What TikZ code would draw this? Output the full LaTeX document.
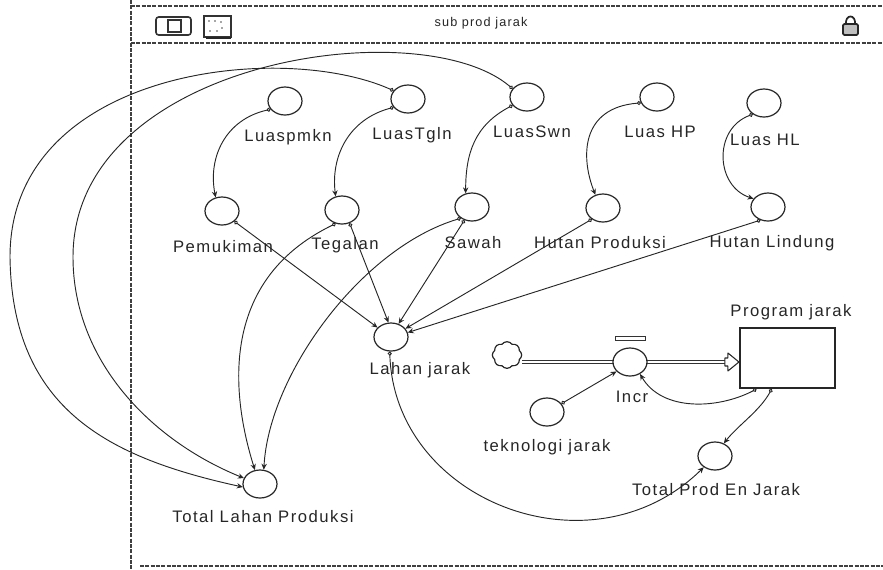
\documentclass[tikz,border=0pt]{standalone}
\usepackage{fontspec}
\setmainfont{Liberation Sans}
\newfontfamily\lblfont{Liberation Sans}[LetterSpace=9]
\usetikzlibrary{arrows.meta,shapes.geometric,shapes.symbols,calc}

\begin{document}
\begin{tikzpicture}[x=0.75pt,y=-0.75pt,
  aux/.style={ellipse,draw=black!85,line width=0.9pt,fill=white,
    minimum width=25.5pt,minimum height=21pt,inner sep=0pt},
  lbl/.style={font=\lblfont\fontsize{12.5}{14}\selectfont,text=black!85,inner sep=0pt},
  conn/.style={draw=black!85,line width=0.7pt,
    {Circle[open,length=3pt,width=3pt]}-{Stealth[length=4.5pt,width=4pt]}},
  winframe/.style={draw=black!75,line width=1.3pt,dash pattern=on 3pt off 1pt},
]
\useasboundingbox (0,0) rectangle (883,569);

% window frame and title bar
\draw[winframe] (131,0) -- (131,569);
\draw[winframe] (131,6) -- (883,6);
\draw[winframe] (131,43) -- (883,43);
\draw[winframe] (140,566) -- (883,566);
\node[lbl,font=\lblfont\fontsize{9.5}{11}\selectfont] (title) at (481,23) {sub prod jarak};
% title bar icons
\draw[black!80,line width=1.2pt,rounded corners=2pt] (156,17) rectangle (191,35);
\draw[black!80,line width=1pt] (168,20) rectangle (181,32);
\draw[black!80,line width=1.2pt] (204,16) rectangle (231,37);
\draw[black!85,line width=2pt] (206,38) -- (231,38);
\fill[black!70] (209,21) circle (0.8) (215,21) circle (0.8) (221,22) circle (0.8)
  (210,31) circle (0.8) (217,31) circle (0.8) (222,28) circle (0.8);
\draw[black!85,line width=1.3pt] (846,24) .. controls (845,14) and (856,14) .. (855,24);
\draw[black!85,line width=1.3pt,fill=black!25,rounded corners=1pt] (843,24) rectangle (858,35);

% converters
\node[aux] (lpm) at (285,101) {};
\node[aux] (ltg) at (408,99) {};
\node[aux] (lsw) at (527,97) {};
\node[aux] (lhp) at (657,97) {};
\node[aux] (lhl) at (764,103) {};
\node[aux] (pem) at (222,211) {};
\node[aux] (teg) at (342,210) {};
\node[aux] (saw) at (472,207) {};
\node[aux] (hp)  at (603,208) {};
\node[aux] (hl)  at (768,207) {};
\node[aux] (lj)  at (391,337) {};
\node[aux] (tek) at (547,412) {};
\node[aux] (tpe) at (715,456) {};
\node[aux] (tlp) at (260,484) {};

\node[lbl] (lpm-l) at (288,137) {Luaspmkn};
\node[lbl] (ltg-l) at (412,135) {LuasTgln};
\node[lbl] (lsw-l) at (532,132) {LuasSwn};
\node[lbl] (lhp-l) at (660,132) {Luas HP};
\node[lbl] (lhl-l) at (765,140) {Luas HL};
\node[lbl] (pem-l) at (223,247) {Pemukiman};
\node[lbl] (teg-l) at (345,245) {Tegalan};
\node[lbl] (saw-l) at (473,243) {Sawah};
\node[lbl] (hp-l)  at (600,243) {Hutan Produksi};
\node[lbl] (hl-l)  at (772,243) {Hutan Lindung};
\node[lbl] (lj-l)  at (420,370) {Lahan jarak};
\node[lbl] (tek-l) at (547,447) {teknologi jarak};
\node[lbl] (tpe-l) at (716,490) {Total Prod En Jarak};
\node[lbl] (tlp-l) at (263,517) {Total Lahan Produksi};

% stock, source cloud and flow
\node[draw=black!85,line width=1.6pt,minimum width=71.25pt,minimum height=45pt,inner sep=0pt]
  (pj) at (787.5,358) {};
\node[lbl] (pj-l) at (791,312) {Program jarak};
\node[cloud,cloud puffs=8,cloud puff arc=110,draw=black!85,line width=0.9pt,
  minimum width=22pt,minimum height=20pt,inner sep=0pt] (cl) at (507,355) {};
\coordinate (inc-pos) at (630,362);
\draw[black!80,line width=0.6pt,double=white,double distance=2pt]
  (cl.east |- inc-pos) -- ($(pj.west |- inc-pos)+(-9,0)$);
\draw[black!85,line width=0.8pt,fill=white,line join=round]
  (pj.west |- inc-pos) -- ++(-11,-9) -- ++(0,5) -- ++(-3,0) -- ++(0,8) -- ++(3,0) -- ++(0,5) -- cycle;
\node[aux] (inc) at (inc-pos) {};
\draw[black!80,line width=0.7pt] ($(inc.north)+(-15,-11)$) rectangle ($(inc.north)+(15,-7)$);
\node[lbl] (inc-l) at (632,397) {Incr};

% connectors from the area inputs
\draw[conn] (lpm.210) .. controls +(-45,10) and +(-8,-40) .. (pem.115);
\draw[conn] (ltg.210) .. controls +(-45,12) and +(-5,-40) .. (teg.115);
\draw[conn] (lsw.210) .. controls +(-38,20) and +(0,-40) .. (saw.115);
\draw[conn] (lhp.200) .. controls +(-60,5) and +(-15,-38) .. (hp.120);
\draw[conn] (lhl.225) .. controls +(-40,15) and +(-38,-12) .. (hl.150);

% land uses into Lahan jarak
\draw[conn] (pem.-40) -- (lj.145);
\draw[conn] (teg.-60) -- (lj.100);
\draw[conn] (saw.240) -- (lj.60);
\draw[conn] (hp.225) -- (lj.30);
\draw[conn] (hl.240) -- (lj.15);

% into Total Lahan Produksi
\draw[conn] (teg.245) .. controls +(-120,58) and +(-22,-70) .. (tlp.110);
\draw[conn] (saw.225) .. controls +(-100,30) and +(5,-95) .. (tlp.75);
\coordinate (wpA) at (10,257);
\coordinate (wpB) at (73,257);
\draw[conn] (ltg.150) .. controls (280,40) and (10,70) .. (wpA)
  .. controls (12,410) and (110,458) .. (tlp.190);
\draw[conn] (lsw.150) .. controls (420,10) and (73,60) .. (wpB)
  .. controls (73,360) and (150,440) .. (tlp.160);

% production part
\draw[conn] (lj.-95) .. controls +(5,150) and +(-112,110) .. (tpe.225);
\draw[conn] (pj.225) .. controls +(-38,20) and +(22,38) .. (inc.-50);
\draw[conn] (pj.243) .. controls +(-12,22) and +(14,-18) .. (tpe.55);
\draw[conn] (tek.30) -- (inc.215);
\end{tikzpicture}
\end{document}
